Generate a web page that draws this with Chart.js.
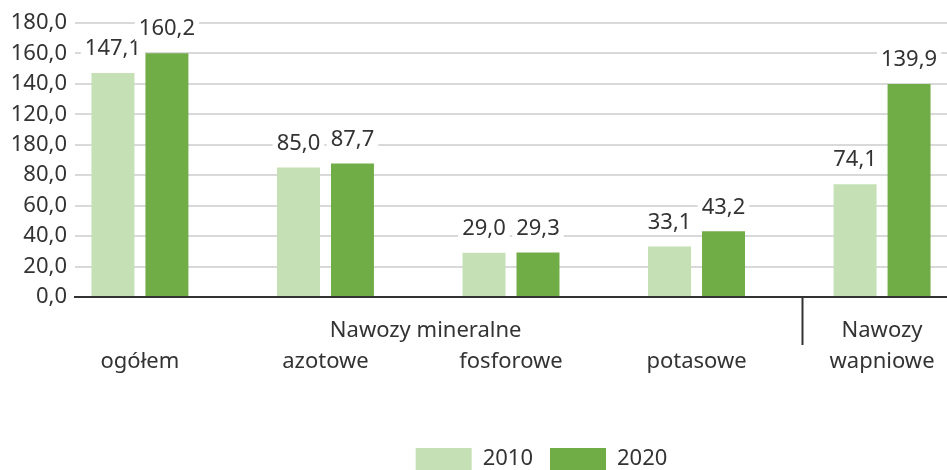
<!DOCTYPE html>
<html>
<head>
<meta charset="utf-8">
<script src="https://cdn.jsdelivr.net/npm/chart.js@4.4.1/dist/chart.umd.min.js"></script>
<style>
  html, body { margin: 0; background: #fff; overflow: hidden; }
  #wrap { width: 947px; height: 480px; position: relative; }
</style>
</head>
<body>
<div id="wrap"><canvas id="nawozyChart"></canvas></div>
<script>
// dane z wykresu
var categories = [['', 'ogółem'], ['', 'azotowe'], ['', 'fosforowe'], ['', 'potasowe'], ['Nawozy', 'wapniowe']];
var years = ['2010', '2020'];
var values2010 = [147.1, 85.0, 29.0, 33.1, 74.1];
var values2020 = [160.2, 87.7, 29.3, 43.2, 139.9];
var yTickLabels = ['0,0', '20,0', '40,0', '60,0', '80,0', '180,0', '120,0', '140,0', '160,0', '180,0'];
var groupLabel = 'Nawozy mineralne';

var FONT = '"Noto Sans", "Open Sans", sans-serif';
var FS = 22;
var TEXT = '#333333';

function toPoints(arr) {
  return arr.map(function (v, i) { return { x: i, y: v }; });
}

// etykiety wartości nad słupkami (z białym tłem)
var valueLabels = {
  id: 'valueLabels',
  afterDatasetsDraw: function (chart) {
    var ctx = chart.ctx;
    ctx.save();
    ctx.font = FS + 'px ' + FONT;
    ctx.textAlign = 'center';
    ctx.textBaseline = 'middle';
    chart.data.datasets.forEach(function (ds, di) {
      var meta = chart.getDatasetMeta(di);
      meta.data.forEach(function (bar, i) {
        var txt = ds.data[i].y.toFixed(1).replace('.', ',');
        var w = ctx.measureText(txt).width;
        var cy = bar.y - 24;
        ctx.fillStyle = '#ffffff';
        ctx.fillRect(bar.x - w / 2 - 4, cy - 10, w + 8, 22);
        ctx.fillStyle = TEXT;
        ctx.fillText(txt, bar.x, cy);
      });
    });
    ctx.restore();
  }
};

// napis grupy, kreska oddzielająca, przesunięcie legendy
var groupDecor = {
  id: 'groupDecor',
  afterLayout: function (chart) {
    chart.legend.left += 68;
    chart.legend.right += 68;
  },
  afterDraw: function (chart) {
    var ctx = chart.ctx;
    var xs = chart.scales.x;
    var bottom = chart.chartArea.bottom;
    ctx.save();
    ctx.strokeStyle = TEXT;
    ctx.lineWidth = 2;
    var sx = Math.round(xs.getPixelForValue(3.57)) + 0.5;
    ctx.beginPath();
    ctx.moveTo(sx, bottom);
    ctx.lineTo(sx, bottom + 48);
    ctx.stroke();
    ctx.font = FS + 'px ' + FONT;
    ctx.fillStyle = TEXT;
    ctx.textAlign = 'center';
    ctx.textBaseline = 'middle';
    ctx.fillText(groupLabel, xs.getPixelForValue(1.54), bottom + 34);
    ctx.restore();
  }
};

var ctx = document.getElementById('nawozyChart').getContext('2d');

var myChart = new Chart(ctx, {
  type: 'bar',
  data: {
    datasets: [{
      label: years[0],
      data: toPoints(values2010),
      backgroundColor: '#c5e0b4',
      categoryPercentage: 0.582,
      barPercentage: 0.796
    }, {
      label: years[1],
      data: toPoints(values2020),
      backgroundColor: '#70ad47',
      categoryPercentage: 0.582,
      barPercentage: 0.796
    }]
  },
  options: {
    responsive: true,
    maintainAspectRatio: false,
    animation: false,
    layout: { padding: { top: 23, right: 0, left: 0, bottom: 0 } },
    plugins: {
      tooltip: { enabled: false },
      legend: {
        position: 'bottom',
        labels: {
          boxWidth: 56,
          boxHeight: 22,
          padding: 17,
          color: TEXT,
          font: { family: FONT, size: FS }
        }
      }
    },
    scales: {
      x: {
        type: 'linear',
        offset: false,
        min: -0.35,
        max: 4.35,
        afterBuildTicks: function (scale) {
          scale.ticks = categories.map(function (c, i) { return { value: i }; });
        },
        afterFit: function (scale) {
          scale.height = 134;
          scale.paddingLeft = 0;
          scale.paddingRight = 0;
        },
        ticks: {
          autoSkip: false,
          maxRotation: 0,
          padding: 18,
          color: TEXT,
          font: { family: FONT, size: FS, lineHeight: 1.42 },
          callback: function (value) { return categories[value]; }
        },
        grid: { display: false, drawTicks: false, offset: false },
        border: { color: TEXT, width: 2 }
      },
      y: {
        min: 0,
        max: 180,
        afterFit: function (scale) {
          scale.width = 75;
          scale.paddingTop = 0;
          scale.paddingBottom = 0;
        },
        ticks: {
          stepSize: 20,
          padding: 8,
          color: TEXT,
          font: { family: FONT, size: FS },
          callback: function (value, index) { return yTickLabels[index]; }
        },
        grid: { color: '#d9d9d9', lineWidth: 2, drawTicks: false },
        border: { display: false }
      }
    }
  },
  plugins: [valueLabels, groupDecor]
});
</script>
</body>
</html>
